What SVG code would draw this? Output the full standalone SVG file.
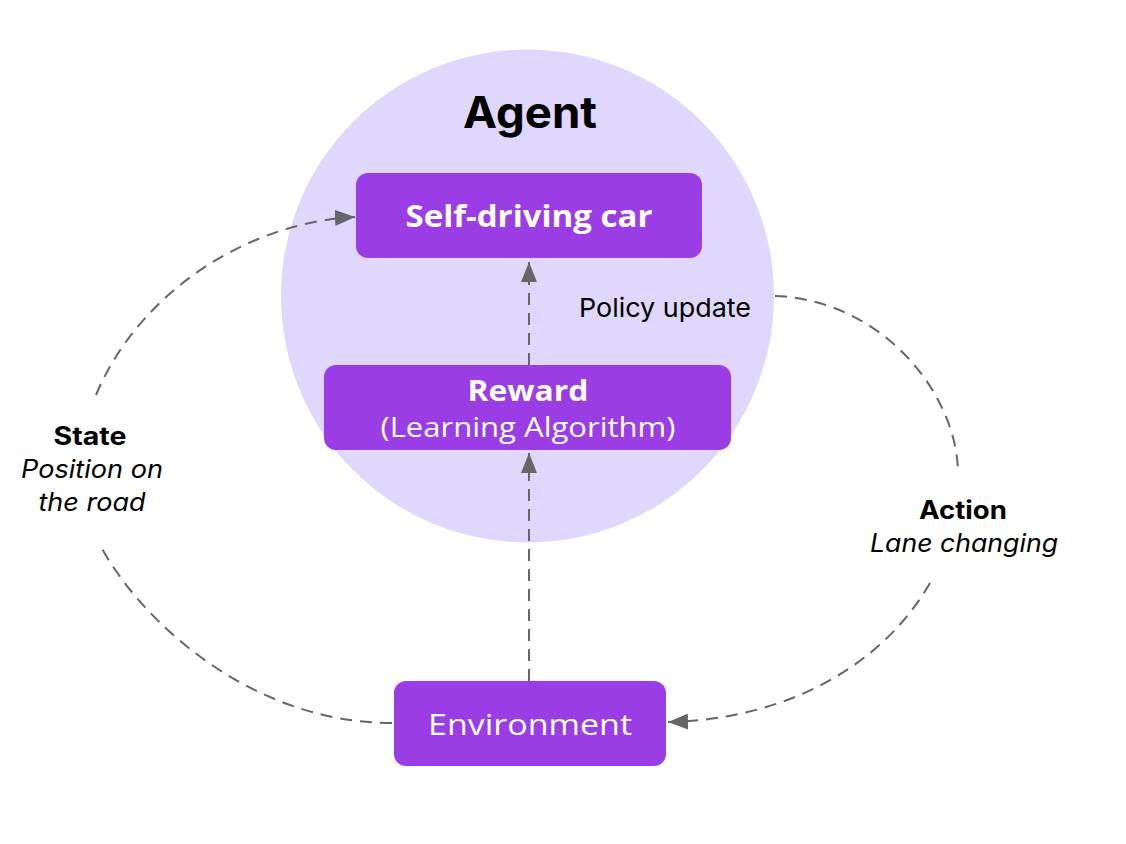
<svg xmlns="http://www.w3.org/2000/svg" width="1126" height="844" viewBox="0 0 1126 844">
<style>
.box{fill:#9b3de5}
.bt{font-family:"Open Sans","Noto Sans",sans-serif;fill:#fff;text-anchor:middle}
.lbl{font-family:Inter,"Noto Sans",sans-serif;fill:#000;text-anchor:middle}
.conn{fill:none;stroke:#666;stroke-width:2;stroke-dasharray:12 8}
</style>
<defs>
<marker id="arrL" viewBox="0 0 20 16" refX="20" refY="8" markerWidth="20" markerHeight="16" markerUnits="userSpaceOnUse" orient="auto">
<path d="M0,0 L20,8 L0,16 z" fill="#666"/>
</marker>
</defs>
<rect width="1126" height="844" fill="#fff"/>
<g id="agent">
<circle cx="527.5" cy="296" r="246.5" fill="#e0d7fc"/>
<text x="530" y="128" class="lbl" font-size="44" font-weight="700" textLength="134" lengthAdjust="spacingAndGlyphs">Agent</text>
</g>
<g id="connectors">
<path class="conn" d="M529,365 V262" marker-end="url(#arrL)"/>
<path class="conn" d="M529,681 V453" marker-end="url(#arrL)"/>
<path class="conn" d="M392,723 C250,723 140,620 100,545"/>
<path class="conn" d="M96,395 C140,290 250,222 355,217" marker-end="url(#arrL)"/>
<path class="conn" d="M775,296 C880,300 955,390 958,470"/>
<path class="conn" d="M930,583 C880,670 780,720 668,722" marker-end="url(#arrL)"/>
</g>
<g id="self-driving-car">
<rect class="box" x="356" y="173" width="346" height="85" rx="12"/>
<text x="529" y="227" class="bt" font-size="30" font-weight="700" textLength="247" lengthAdjust="spacingAndGlyphs">Self-driving car</text>
</g>
<g id="reward">
<rect class="box" x="324" y="365" width="407" height="85" rx="12"/>
<text x="528" y="401" class="bt" font-size="28" font-weight="700" textLength="121" lengthAdjust="spacingAndGlyphs">Reward</text>
<text x="528" y="437" class="bt" font-size="27" textLength="295" lengthAdjust="spacingAndGlyphs">(Learning Algorithm)</text>
</g>
<g id="environment">
<rect class="box" x="394" y="681" width="272" height="85" rx="12"/>
<text x="530" y="735" class="bt" font-size="30" textLength="204" lengthAdjust="spacingAndGlyphs">Environment</text>
</g>
<g id="labels">
<text x="579" y="317" font-family="Inter,'Noto Sans',sans-serif" font-size="26" fill="#000" textLength="172" lengthAdjust="spacingAndGlyphs">Policy update</text>
<text x="90" y="445" class="lbl" font-size="25" font-weight="700" textLength="73" lengthAdjust="spacingAndGlyphs">State</text>
<text x="92" y="478" class="lbl" font-size="25" font-style="italic" textLength="142" lengthAdjust="spacingAndGlyphs">Position on</text>
<text x="92" y="511" class="lbl" font-size="25" font-style="italic" textLength="107" lengthAdjust="spacingAndGlyphs">the road</text>
<text x="963" y="519" class="lbl" font-size="25" font-weight="700" textLength="88" lengthAdjust="spacingAndGlyphs">Action</text>
<text x="964" y="552" class="lbl" font-size="25" font-style="italic" textLength="188" lengthAdjust="spacingAndGlyphs">Lane changing</text>
</g>
</svg>
